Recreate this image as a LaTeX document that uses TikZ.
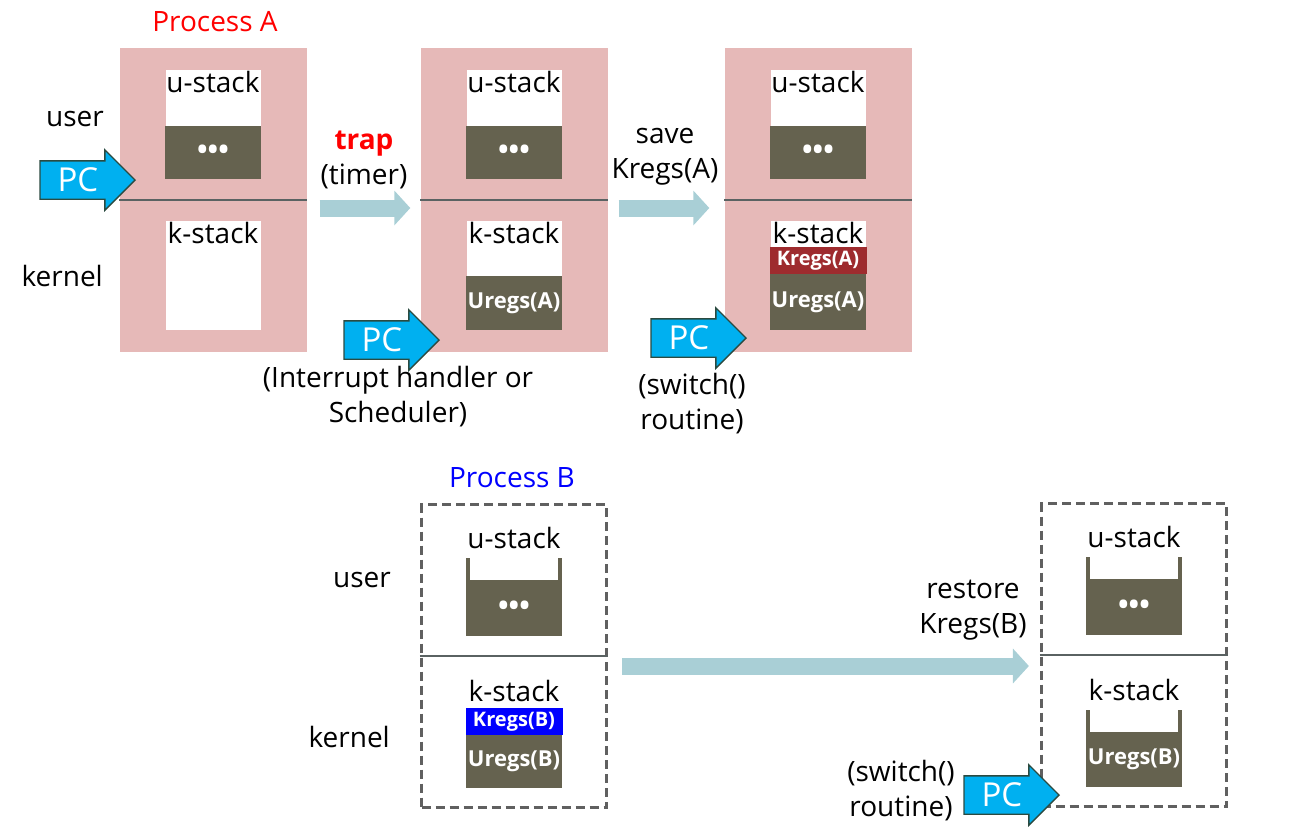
\documentclass[tikz,border=0pt]{standalone}
\usepackage{fontspec}
\setmainfont{Open Sans}
\usetikzlibrary{arrows.meta, positioning, shapes.arrows}

\definecolor{pinkbg}{HTML}{E6B9B8}
\definecolor{stackfill}{HTML}{65624F}
\definecolor{flowblue}{HTML}{A9CFD6}
\definecolor{pcblue}{HTML}{00B0F0}
\definecolor{pcedge}{HTML}{2B4A40}
\definecolor{kregred}{HTML}{9E2B2E}
\definecolor{kregblue}{HTML}{0000FF}
\definecolor{dashgray}{HTML}{606060}
\definecolor{lineclr}{HTML}{5A6262}

\newcommand{\txtsize}{\fontsize{28}{35}\selectfont}
\newcommand{\regsize}{\fontsize{22}{24}\selectfont\bfseries}
\newcommand{\dotsy}{{\fontsize{28}{28}\selectfont\bfseries •••}}

\tikzset{
  panel/.style={fill=pinkbg, minimum width=187pt, minimum height=304pt, inner sep=0pt},
  dashpanel/.style={draw=dashgray, line width=3.2pt, dash pattern=on 9pt off 5pt,
    minimum width=185pt, minimum height=303pt, inner sep=0pt},
  divider/.style={draw=lineclr, line width=1.3pt},
  whitebox/.style={fill=white, minimum width=95pt, minimum height=109pt, inner sep=0pt},
  fillbox/.style={fill=stackfill, minimum width=96pt, inner sep=0pt, text=white, font=\regsize},
  regbox/.style={minimum width=97pt, minimum height=27pt, inner sep=0pt, text=white,
    font=\fontsize{20}{22}\selectfont\bfseries},
  stacklbl/.style={anchor=north, inner sep=1pt, font=\txtsize},
  plainlbl/.style={inner sep=1pt, font=\txtsize, align=center},
  wall/.style={draw=stackfill, line width=4pt},
  pcarrow/.style={single arrow, fill=pcblue, draw=pcedge, line width=1.4pt,
    single arrow head extend=11pt, minimum height=95pt, minimum width=0pt,
    inner ysep=7pt, inner xsep=4pt, text height=23pt, text depth=0pt,
    text=white, font=\fontsize{33}{33}\selectfont, anchor=tip},
  flow/.style={draw=flowblue, line width=17pt, -{Triangle[length=16pt, width=34pt]}}
}

\begin{document}
\begin{tikzpicture}[x=1pt, y=-1pt]
\useasboundingbox (0,0) rectangle (1310,839);

% process A: three snapshots
\node[panel] (pA1) at (213,200) {};
\node[panel] (pA2) at (514,200) {};
\node[panel] (pA3) at (818,200) {};
\foreach \p in {pA1,pA2,pA3} \draw[divider] (\p.west) -- (\p.east);

\foreach \p/\i in {pA1/1,pA2/2,pA3/3} {
  \node[whitebox, below=22pt of \p.north] (us\i) {};
  \node[stacklbl] (usl\i) at (us\i.north) {u-stack};
  \node[fillbox, minimum height=53pt, anchor=south] (ud\i) at (us\i.south) {\dotsy};
  \node[whitebox, below=21pt of \p.center] (ks\i) {};
  \node[stacklbl] (ksl\i) at (ks\i.north) {k-stack};
}
\node[fillbox, minimum height=54pt, anchor=south] (ku2) at (ks2.south) {Uregs(A)};
\node[fillbox, minimum height=56pt, anchor=south] (ku3) at (ks3.south) {Uregs(A)};
\node[regbox, fill=kregred, above=0pt of ku3] (kk3) {Kregs(A)};

\node[plainlbl, text=red] (titleA) at (215,22) {Process A};
\node[plainlbl, anchor=east] (userA) at (105,119) {user};
\node[plainlbl, anchor=east] (kernA) at (104,276) {kernel};

\node[pcarrow] (pc1) at (136,180) {PC};
\node[pcarrow] (pc2) at (440,340) {PC};
\node[pcarrow] (pc3) at (747,338) {PC};

\draw[flow] ([xshift=13pt,yshift=-8pt]pA1.east) -- ([xshift=-10pt,yshift=-8pt]pA2.west);
\draw[flow] ([xshift=11pt,yshift=-8pt]pA2.east) -- ([xshift=-15pt,yshift=-8pt]pA3.west);

\node[plainlbl] (trap) at (364,160) {\textcolor{red}{\bfseries trap}\\(timer)};
\node[plainlbl] (save) at (665,157) {save\\Kregs(A)};
\node[plainlbl] (handler) at (398,397) {(Interrupt handler or\\Scheduler)};
\node[plainlbl] (swA) at (692,404) {(switch()\\routine)};

% process B: before and after restore
\node[dashpanel] (pB1) at (514,656) {};
\node[dashpanel] (pB2) at (1134,655) {};
\foreach \p in {pB1,pB2} \draw[divider] (\p.west) -- (\p.east);

\foreach \p/\i in {pB1/1,pB2/2} {
  \node[stacklbl, below=23pt of \p.north] (ubl\i) {u-stack};
  \node[fillbox, minimum height=56pt, below=77pt of \p.north] (ub\i) {\dotsy};
  \node[stacklbl, below=23pt of \p.center] (kbl\i) {k-stack};
}
\node[fillbox, minimum height=53pt, below=79pt of pB1.center] (kub1) {Uregs(B)};
\node[regbox, fill=kregblue, above=0pt of kub1] (kkb1) {Kregs(B)};
\node[fillbox, minimum height=55pt, below=77pt of pB2.center] (kub2) {Uregs(B)};

\foreach \n in {ub1,ub2,kub2} {
  \draw[wall] ([xshift=2pt]\n.north west) -- ++(0,-22);
  \draw[wall] ([xshift=-2pt]\n.north east) -- ++(0,-22);
}

\node[plainlbl, text=blue] (titleB) at (512,478) {Process B};
\node[plainlbl, anchor=east] (userB) at (392,580) {user};
\node[plainlbl, anchor=east] (kernB) at (391,737) {kernel};

\draw[flow] ([xshift=14pt,yshift=-10pt]pB1.east) -- ([xshift=-11pt,yshift=-11pt]pB2.west);
\node[plainlbl] (restore) at (973,610) {restore\\Kregs(B)};

\node[pcarrow] (pc4) at (1060,795) {PC};
\node[plainlbl] (swB) at (901,791) {(switch()\\routine)};

\end{tikzpicture}
\end{document}
